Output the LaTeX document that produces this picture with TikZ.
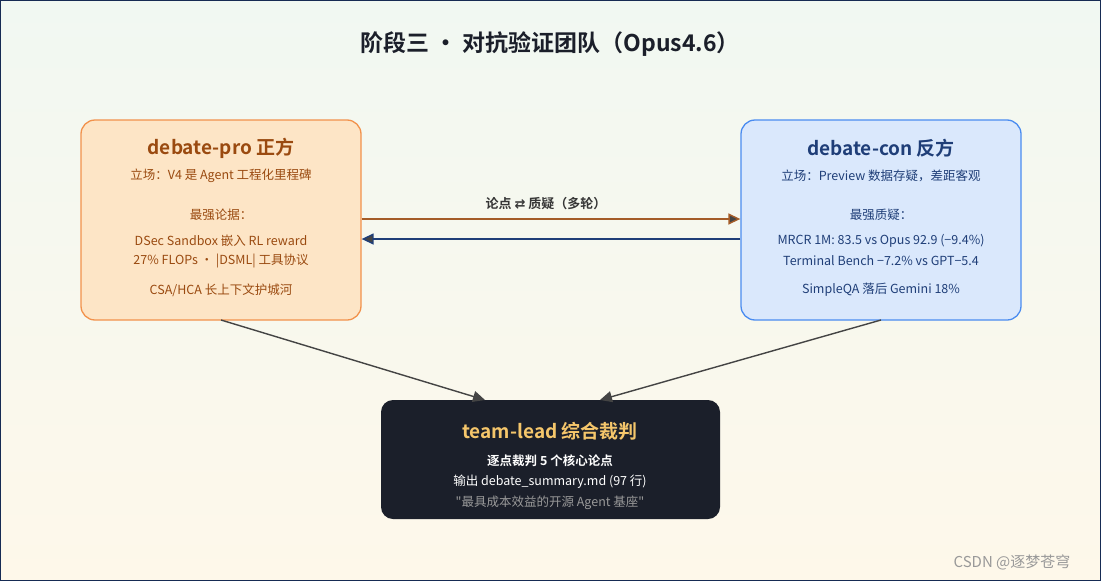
\documentclass[tikz,border=0pt]{standalone}
\usepackage{fontspec}
\setmainfont{Noto Sans CJK SC}[BoldFont={* Bold}]
\newfontfamily\symfont{DejaVu Sans}
\usetikzlibrary{arrows.meta,positioning,calc}
\definecolor{profill}{HTML}{FDE5C6}
\definecolor{prodraw}{HTML}{F2924C}
\definecolor{protext}{HTML}{9A4A10}
\definecolor{confill}{HTML}{DAE8FC}
\definecolor{condraw}{HTML}{4A8CF0}
\definecolor{context}{HTML}{1F3E78}
\definecolor{leadfill}{HTML}{1B1F2A}
\definecolor{leadtext}{HTML}{F5C66B}
\definecolor{linkgray}{HTML}{444444}
\definecolor{bgtop}{HTML}{F1F8F2}
\definecolor{bgbot}{HTML}{FEF8EA}
\tikzset{
  box/.style={rounded corners=14pt,line width=1.3pt,minimum width=280pt,minimum height=200pt},
  ttl/.style={font=\fontsize{19}{21}\selectfont\bfseries},
  txt/.style={font=\fontsize{12.5}{14}\selectfont},
  link/.style={line width=1.4pt,-{Triangle[length=12pt,width=11pt,fill=linkgray]}}
}
\begin{document}
\begin{tikzpicture}[x=1pt,y=-1pt]
% background
\shade[top color=bgtop,bottom color=bgbot] (0,0) rectangle (1101,581);
\draw[context!70!black,line width=1pt] (0.5,0.5) rectangle (1100.5,580.5);
\useasboundingbox (0,0) rectangle (1101,581);

\node[font=\fontsize{23}{25}\selectfont\bfseries,text=leadfill] (title) at (550,44) {阶段三 · 对抗验证团队（Opus4.6）};

% debaters
\node[box,draw=prodraw,fill=profill] (pro) at (221,220) {};
\node[box,draw=condraw,fill=confill] (con) at (881,220) {};
\node[rounded corners=12pt,fill=leadfill,minimum width=339pt,minimum height=119pt] (lead) at (550.5,459.5) {};

% pro texts
\node[ttl,text=protext] at (221,148) {debate-pro 正方};
\node[txt,text=protext] at (221,176) {立场：V4 是 Agent 工程化里程碑};
\node[txt,text=protext] at (221,215) {最强论据：};
\node[txt,text=protext] at (221,241) {DSec Sandbox 嵌入 RL reward};
\node[txt,text=protext] at (221,261) {27\% FLOPs · |DSML| 工具协议};
\node[txt,text=protext] at (221,290) {CSA/HCA 长上下文护城河};

% con texts
\node[ttl,text=context] at (881,148) {debate-con 反方};
\node[txt,text=context] at (881,176) {立场：Preview 数据存疑，差距客观};
\node[txt,text=context] at (881,215) {最强质疑：};
\node[txt,text=context] at (881,241) {MRCR 1M: 83.5 vs Opus 92.9 (−9.4\%)};
\node[txt,text=context] at (881,261) {Terminal Bench −7.2\% vs GPT−5.4};
\node[txt,text=context] at (881,290) {SimpleQA 落后 Gemini 18\%};

% lead texts
\node[ttl,text=leadtext] at (550,431) {team-lead 综合裁判};
\node[txt,text=white,font=\fontsize{12.5}{14}\selectfont\bfseries] at (550,461) {逐点裁判 5 个核心论点};
\node[txt,text=white] at (550,482) {输出 debate\_summary.md (97 行)};
\node[txt,text=gray!80] at (550,503) {\textquotedbl 最具成本效益的开源 Agent 基座\textquotedbl};

% exchange
\draw[link,draw=protext!90] (pro.east|-0,219) -- (con.west|-0,219);
\draw[link,draw=context] (con.west|-0,239) -- (pro.east|-0,239);
\node[font=\fontsize{13}{15}\selectfont\bfseries,text=linkgray!80!black] (xlabel) at (546,204) {论点 {\symfont ⇄} 质疑（多轮）};

% to judge
\coordinate (pfoot) at (221,320);
\coordinate (cfoot) at (881,320);
\draw[link,draw=linkgray] (pfoot) -- (485,400);
\draw[link,draw=linkgray] (cfoot) -- (600,400);

\node[font=\fontsize{15}{17}\selectfont,text=gray!80] (mark) at (1012,562) {CSDN @逐梦苍穹};
\end{tikzpicture}
\end{document}
